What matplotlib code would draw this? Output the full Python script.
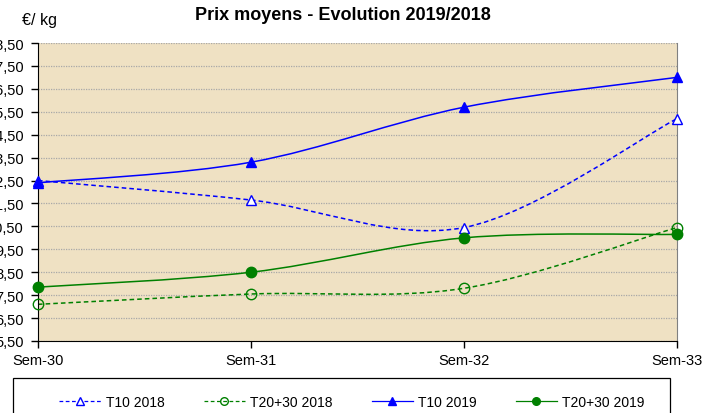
import matplotlib
matplotlib.use("Agg")
import matplotlib.pyplot as plt
from matplotlib.path import Path
from matplotlib.patches import PathPatch, Rectangle
from matplotlib.lines import Line2D

plt.rcParams['font.family'] = ['Liberation Sans', 'DejaVu Sans']

weeks = ["Sem-30", "Sem-31", "Sem-32", "Sem-33"]
t10_2018 = [12.5, 11.65, 10.45, 15.2]
t2030_2018 = [7.1, 7.55, 7.8, 10.45]
t10_2019 = [12.4, 13.3, 15.7, 17.0]
t2030_2019 = [7.85, 8.5, 10.0, 10.15]
yticks = [5.5 + i for i in range(14)]


def smooth_path(xs, ys):
    # bezier like Excel's smoothed lines
    pts = list(zip(xs, ys))
    n = len(pts)
    verts = [pts[0]]
    codes = [Path.MOVETO]
    for i in range(n - 1):
        p0 = pts[max(i - 1, 0)]
        p1 = pts[i]
        p2 = pts[i + 1]
        p3 = pts[min(i + 2, n - 1)]
        c1 = (p1[0] + (p2[0] - p0[0]) / 6, p1[1] + (p2[1] - p0[1]) / 6)
        c2 = (p2[0] - (p3[0] - p1[0]) / 6, p2[1] - (p3[1] - p1[1]) / 6)
        verts += [c1, c2, p2]
        codes += [Path.CURVE4] * 3
    return Path(verts, codes)


fig = plt.figure(figsize=(7.07, 4.14), dpi=100)
ax = fig.add_axes([38 / 707, 1 - 342 / 414, 639 / 707, 298 / 414])
ax.set_facecolor("#EFE1C3")

x = list(range(len(weeks)))
series = [
    (t10_2018, "T10 2018", "#0000FF", (0, (3, 2)), "^", "white"),
    (t2030_2018, "T20+30 2018", "#008000", (0, (3, 2)), "o", "none"),
    (t10_2019, "T10 2019", "#0000FF", "-", "^", "#0000FF"),
    (t2030_2019, "T20+30 2019", "#008000", "-", "o", "#008000"),
]
handles = []
for vals, name, col, ls, mk, fc in series:
    patch = PathPatch(smooth_path(x, vals), fill=False, edgecolor=col,
                      lw=1.1, linestyle=ls, clip_on=False)
    ax.add_patch(patch)
    ax.plot(x, vals, linestyle="none", marker=mk, markersize=7.5,
            markerfacecolor=fc, markeredgecolor=col, markeredgewidth=1.0,
            clip_on=False, zorder=3)
    handles.append(Line2D([], [], color=col, lw=0.9, linestyle=ls, marker=mk,
                          markersize=5.5, markerfacecolor=fc,
                          markeredgecolor=col, label=name))

ax.set_xlim(0, 3)
ax.set_ylim(5.5, 18.5)
ax.set_xticks(x)
ax.set_xticklabels(weeks, fontsize=10.5)
ax.set_yticks(yticks)
ax.set_yticklabels([("%.2f" % v).replace(".", ",") for v in yticks], fontsize=10.5)
ax.tick_params(axis="y", direction="out", length=5, width=1, pad=5)
ax.tick_params(axis="x", direction="out", length=5, width=1, pad=4)
ax.yaxis.grid(True, color="#A8A8A8", linestyle=(0, (1, 1)), linewidth=0.9)
ax.set_axisbelow(True)
ax.spines["left"].set_color("black")
ax.spines["bottom"].set_color("black")
ax.spines["right"].set_color("#808080")
ax.spines["top"].set_visible(False)

fig.text(343 / 707, 1 - 15 / 414, "Prix moyens - Evolution 2019/2018",
         ha="center", va="center", fontsize=13, fontweight="bold")
fig.text(22 / 707, 1 - 20 / 414, "€/ kg", ha="left", va="center", fontsize=11.5)

# legend box
fig.patches.append(Rectangle((13 / 707, -0.05), 657 / 707, 1 - 379 / 414 + 0.05,
                             transform=fig.transFigure, fill=False,
                             edgecolor="black", lw=0.9))
fig.legend(handles=handles, ncol=4, loc="center",
           bbox_to_anchor=(352 / 707, 1 - 403 / 414), fontsize=10,
           handlelength=3.0, handletextpad=0.35, columnspacing=2.8,
           frameon=False)

fig.savefig("out.png", dpi=100)
